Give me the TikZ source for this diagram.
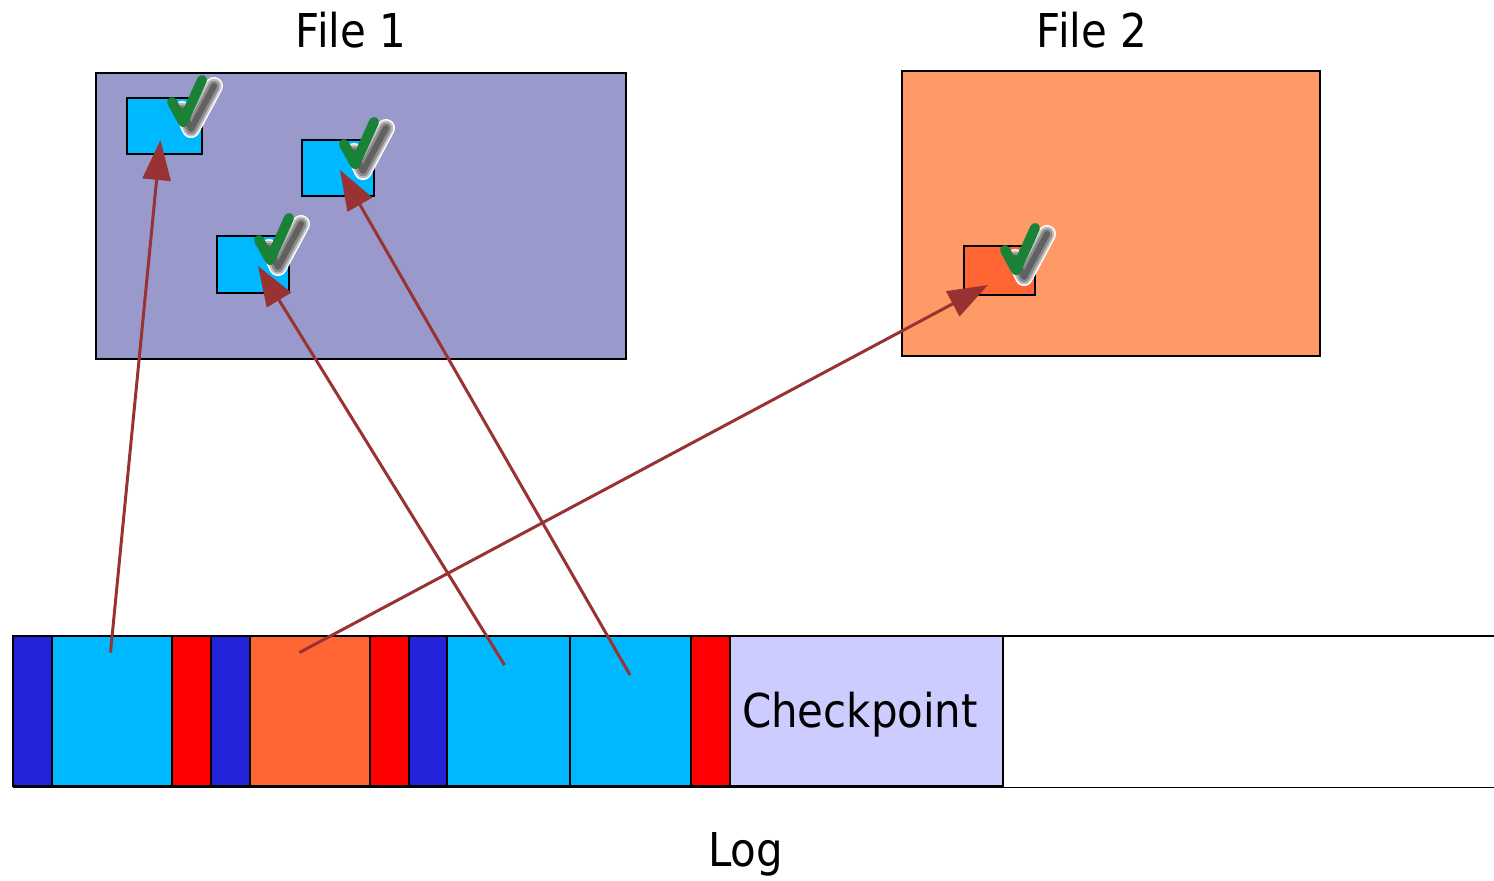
\documentclass[tikz,border=0pt]{standalone}
\usepackage{fontspec}
\setmainfont{DejaVu Sans}[FakeStretch=0.9]
\usetikzlibrary{arrows.meta}

\definecolor{fileone}{HTML}{9999CC}
\definecolor{filetwo}{HTML}{FF9966}
\definecolor{blk}{HTML}{00B8FF}
\definecolor{blkorange}{HTML}{FF6633}
\definecolor{hdr}{HTML}{2323DC}
\definecolor{commit}{HTML}{FF0000}
\definecolor{ckpt}{HTML}{CCCCFF}
\definecolor{redo}{HTML}{993333}
\definecolor{okgreen}{HTML}{1A8236}

\tikzset{
  filebox/.style={draw=black, line width=0.6pt},
  pagebox/.style={draw=black, line width=0.6pt},
  logcell/.style={draw=black, line width=0.6pt},
  redoarrow/.style={draw=redo, line width=1.5pt, -{Triangle[length=20pt,width=14pt]}},
  label/.style={font=\fontsize{23.3}{28}\selectfont, inner sep=0pt, anchor=base},
  checkmark/.pic={
    % soft shadow stroke with a light halo, then the green tick on top
    \draw[white, line width=9pt, line cap=round, line join=round]
      (-20,12) -- (-11,31) -- (12,-12);
    \draw[black!25, line width=7.5pt, line cap=round, line join=round]
      (-20,12) -- (-11,31) -- (12,-12);
    \draw[black!45, line width=5.5pt, line cap=round, line join=round]
      (-20,12) -- (-11,31) -- (12,-12);
    \draw[black!62, line width=3pt, line cap=round, line join=round]
      (-20,12) -- (-11,31) -- (12,-12);
    \draw[okgreen, line width=5pt, line cap=round, line join=round]
      (-30,4) -- (-19,24) -- (0,-18);
  }
}

\begin{document}
\begin{tikzpicture}[x=0.5pt, y=-0.5pt]
\useasboundingbox (0,0) rectangle (1494,880);
\fill[white] (0,0) rectangle (1494,880);

% files
\draw[filebox, fill=fileone] (96,73) rectangle (626,359);
\draw[filebox, fill=filetwo] (902,71) rectangle (1320,356);
\node[label] (f1) at (351,47) {File 1};
\node[label] (f2) at (1092,47) {File 2};

% pages inside the files
\draw[pagebox, fill=blk] (127,98) rectangle (202,154);
\draw[pagebox, fill=blk] (302,140) rectangle (374,196);
\draw[pagebox, fill=blk] (217,236) rectangle (289,293);
\draw[pagebox, fill=blkorange] (964,246) rectangle (1035,295);
\pic at (202,98) {checkmark};
\pic at (374,140) {checkmark};
\pic at (289,236) {checkmark};
\pic at (1035,246) {checkmark};

% log
\draw[line width=0.8pt] (13,636) -- (1494,636);
\draw[line width=0.8pt] (13,787.5) -- (1494,787.5);
\foreach \a/\b/\c in {13/52/hdr, 52/172/blk, 172/211/commit, 211/250/hdr,
                      250/370/blkorange, 370/409/commit, 409/447/hdr,
                      447/570/blk, 570/691/blk, 691/730/commit, 730/1003/ckpt}
  \draw[logcell, fill=\c] (\a,636) rectangle (\b,786);
\node[label] (cp) at (860,727) {Checkpoint};
\node[label] (log) at (745.5,866.5) {Log};

% redo records and the pages they update
\coordinate (r1) at (110.5,652.5);
\coordinate (r2) at (299.5,652.5);
\coordinate (r3) at (504.5,665);
\coordinate (r4) at (630,675);
\coordinate (p1) at (160.5,140);
\coordinate (p2) at (258,266);
\coordinate (p3) at (340,170);
\coordinate (p4) at (988,285);

\draw[redoarrow] (r1) -- (p1);
\draw[redoarrow] (r3) -- (p2);
\draw[redoarrow] (r4) -- (p3);
\draw[redoarrow] (r2) -- (p4);
\end{tikzpicture}
\end{document}
